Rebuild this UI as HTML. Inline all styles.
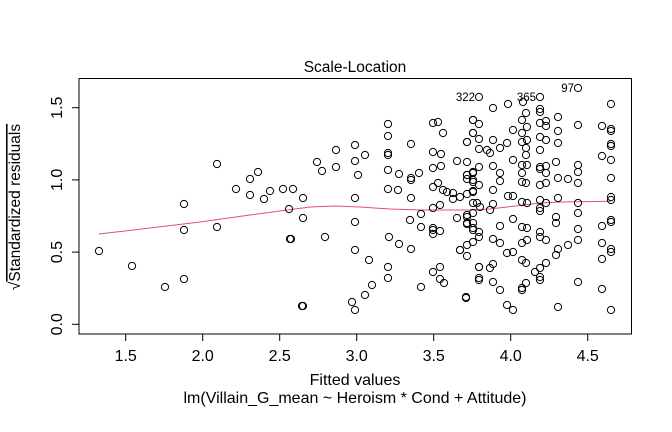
<!DOCTYPE html>
<html><head><meta charset="utf-8"><style>body{margin:0;background:#fff}svg{display:block}text{font-family:"Liberation Sans",sans-serif;fill:#000}</style></head>
<body>
<svg width="672" height="432" viewBox="0 0 672 432" xmlns="http://www.w3.org/2000/svg">
<rect x="79" y="78.5" width="552.5" height="255.5" fill="none" stroke="#000" stroke-width="1"/>
<g stroke="#000" stroke-width="1">
<line x1="125.7" y1="334" x2="125.7" y2="341"/><line x1="202.7" y1="334" x2="202.7" y2="341"/><line x1="279.7" y1="334" x2="279.7" y2="341"/><line x1="356.7" y1="334" x2="356.7" y2="341"/><line x1="433.7" y1="334" x2="433.7" y2="341"/><line x1="510.7" y1="334" x2="510.7" y2="341"/><line x1="587.7" y1="334" x2="587.7" y2="341"/>
<line x1="72" y1="324.3" x2="79" y2="324.3"/><line x1="72" y1="252.1" x2="79" y2="252.1"/><line x1="72" y1="179.9" x2="79" y2="179.9"/><line x1="72" y1="107.7" x2="79" y2="107.7"/>
</g>
<g font-size="16" text-anchor="middle">
<text x="125.7" y="361">1.5</text><text x="202.7" y="361">2.0</text><text x="279.7" y="361">2.5</text><text x="356.7" y="361">3.0</text><text x="433.7" y="361">3.5</text><text x="510.7" y="361">4.0</text><text x="587.7" y="361">4.5</text>
<text transform="translate(62,324.3) rotate(-90)">0.0</text><text transform="translate(62,252.1) rotate(-90)">0.5</text><text transform="translate(62,179.9) rotate(-90)">1.0</text><text transform="translate(62,107.7) rotate(-90)">1.5</text>
<text x="355" y="72" font-size="15.5">Scale-Location</text>
<text x="355" y="385">Fitted values</text>
<text x="355" y="403">lm(Villain_G_mean ~ Heroism * Cond + Attitude)</text>
<text transform="translate(20,207) rotate(-90)" font-size="15.5">√<tspan text-decoration="overline">Standardized residuals</tspan></text>
</g>
<g font-size="11.5" text-anchor="end">
<text x="475" y="101">322</text><text x="536" y="101">365</text><text x="574" y="92">97</text>
</g>
<polyline fill="none" stroke="#DF536B" stroke-width="1" points="99,234 150,228 200,222 250,215 287,210 310,207 335,206 360,207 390,209 420,210 450,210 470,210 490,209 515,206 540,203 560,202 578,201.7 611,201.3"/>
<g fill="none" stroke="#000" stroke-width="1" id="pts"></g>
</svg>
<script>
var p=[[99,251],[132,266],[165,287],[184,279],[184,230],[184,204],[217,227],[217,164],[236,189],[250,179],[250,195],[258,172],[264,199],[270,191],[283,189],[289,209],[291,239],[302,306],
[317,162],[322,171],[336,150],[336,167],[355,145],[355,161],[365,155],[358,175],[293,189],[303,198],[355,198],[303,218],[355,222],[325,237],[290,239],[355,250],[369,260],[372,285],[365,295],[352,302],[355,310],[303,306],
[388,124],[388,136],[388,153],[388,170],[388,189],[398,190],[399,174],[411,144],[419,173],[411,178],[411,198],[421,214],[410,220],[421,227],[389,237],[399,244],[411,249],[388,267],[388,278],[421,287],
[433,123],[438,122],[443,133],[433,152],[441,154],[433,168],[441,166],[457,161],[467,162],[433,187],[438,183],[443,190],[447,192],[453,193],[453,199],[460,197],[467,194],[473,191],[433,208],[440,205],[433,228],[440,231],[433,234],[457,218],[467,217],[467,224],[473,213],[473,228],[467,245],[460,250],[467,256],[473,242],[433,272],[440,267],[440,279],[444,283],[466,298],[473,120],[473,133],[467,142],[473,172],[467,175],[473,180],[477,203],[479,280],[479,267],
[479,97],[540,97],[578,88],[611,104],[493,108],[508,104],[523,102],[526,113],[540,109],[540,112],[473,120],[479,124],[473,133],[479,139],[467,142],[493,140],[507,143],[500,148],[513,130],[522,120],[527,127],[522,133],[527,140],[522,142],[526,148],[526,155],[540,123],[546,121],[546,126],[540,137],[546,140],[540,150],[558,117],[558,131],[558,143],[578,125],[602,126],[611,129],[611,144],[611,160],[602,156],[611,178],[611,197],[611,220],[602,226],[611,249],[602,243],[602,259],[602,289],[611,310],
[479,149],[487,150],[490,153],[479,167],[473,173],[467,175],[479,185],[473,182],[467,179],[473,192],[493,166],[500,173],[500,181],[513,160],[522,165],[527,165],[522,173],[526,183],[522,182],[493,190],[508,196],[513,196],[493,204],[490,210],[480,207],[473,203],[522,202],[527,203],[540,185],[546,183],[540,167],[546,166],[540,169],[546,173],[556,162],[558,178],[568,179],[578,165],[578,172],[578,183],[540,200],[546,203],[558,198],[578,203],[540,208],[540,211],[556,217],[556,223],[578,213],[578,229],[578,240],[568,245],[558,249],[556,255],[540,232],[540,237],[546,240],[513,219],[500,226],[493,239],[500,243],[522,227],[527,228],[522,243],[527,240],[507,253],[513,252],[522,260],[526,263],[540,268],[535,272],[540,277],[546,263],[558,307],[578,282],[522,288],[526,283],[493,264],[490,268],[479,267],[479,278],[493,282],[500,290],[507,305],[513,310],[466,297],[473,223],[473,230],[479,232],[479,237],[467,215],[467,223],[460,250],
[611,200],[611,222],[611,252],[611,131],[611,146],[522,290],[540,280],[433,230],[388,155],[411,180]];
var g=document.getElementById('pts'),s='';
p.forEach(function(a){s+='<circle cx="'+a[0]+'" cy="'+a[1]+'" r="3.6"/>';});
g.innerHTML=s;
</script>
</body></html>
